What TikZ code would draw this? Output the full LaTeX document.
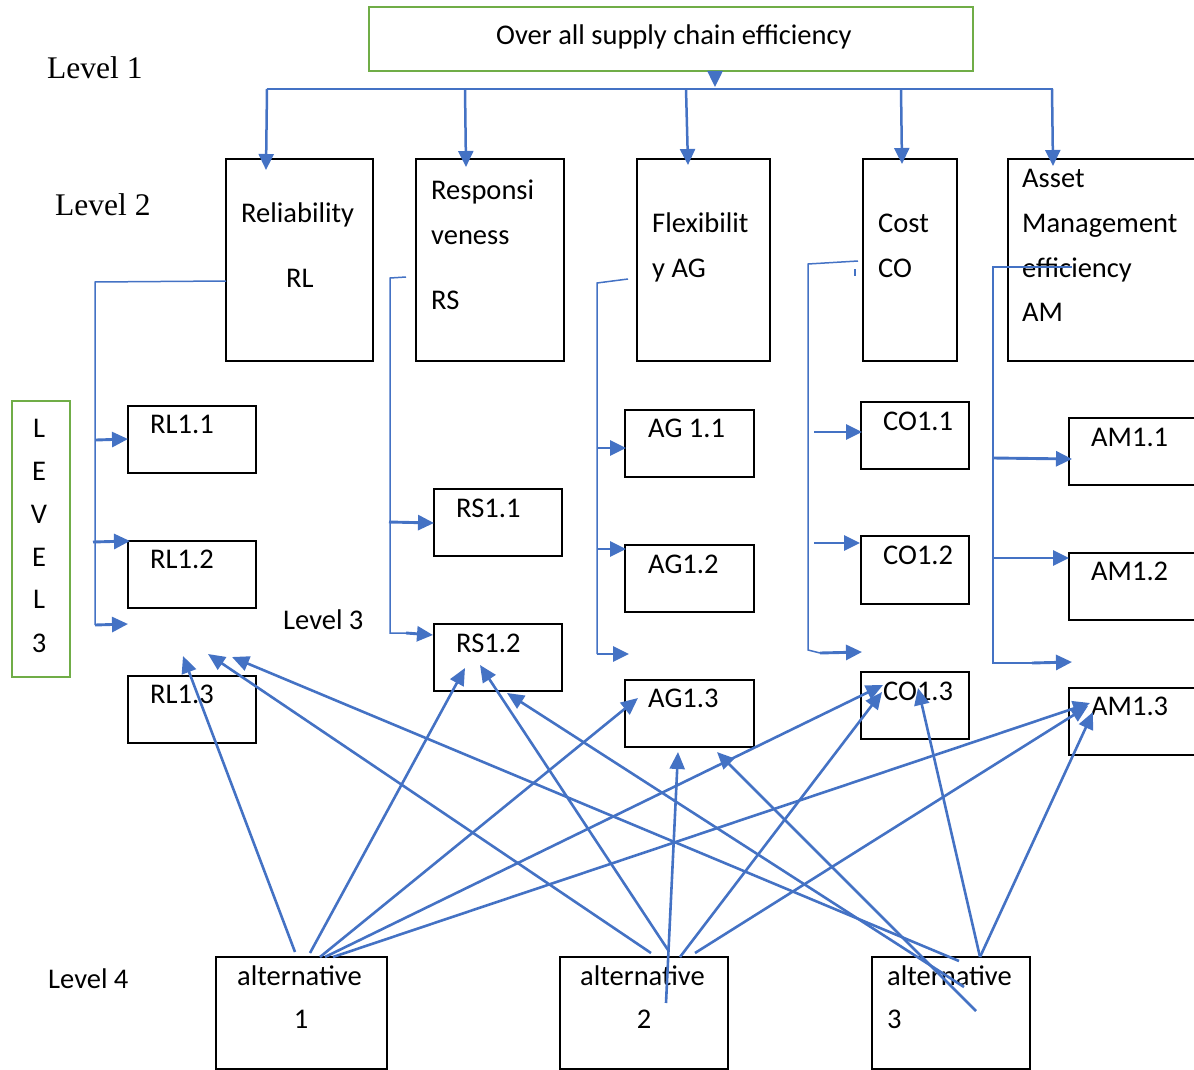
\documentclass[tikz,border=0pt]{standalone}
\usepackage{fontspec}
\setmainfont{Carlito}
\newfontfamily\tnrfont{Liberation Serif}
\usetikzlibrary{arrows.meta}
\definecolor{lblue}{HTML}{4472C4}
\definecolor{lgreen}{HTML}{70AD47}
\newcommand\mkbox[6][blk]{\node[#1,minimum width=#5pt,minimum height=#6pt] (#2) at (#3,#4) {};}
\begin{document}
\begin{tikzpicture}[x=1pt,y=-1pt,
 blk/.style={draw=black,line width=2.2pt,inner sep=0pt,outer sep=0pt,anchor=north west},
 grn/.style={draw=lgreen,line width=2.8pt,inner sep=0pt,outer sep=0pt,anchor=north west},
 txt/.style={inner sep=0pt,anchor=base west,font=\fontsize{28.5}{34}\selectfont},
 ctxt/.style={txt,anchor=base},
 tnr/.style={inner sep=0pt,anchor=base west,font=\tnrfont\fontsize{31.5}{38}\selectfont},
 thinc/.style={draw=lblue,line width=1.5pt},
 arr/.style={draw=lblue,line width=2.9pt,-{Triangle[length=16pt,width=15pt]}},
 tarr/.style={draw=lblue,line width=2.5pt,-{Triangle[length=16pt,width=15pt]}},
 diag/.style={draw=lblue,line width=2.6pt,-{Triangle[length=17pt,width=15pt]}}
]
\useasboundingbox (0,0) rectangle (1194,1070);
% boxes
\mkbox[grn]{top}{369}{7}{604}{64}
\mkbox{rl}{226}{159}{147}{202}
\mkbox{rs}{416}{159}{148}{202}
\mkbox{ag}{637}{159}{133}{202}
\mkbox{co}{863}{159}{94}{202}
\mkbox{am}{1008}{159}{200}{202}
\mkbox[grn]{lev}{12}{401}{58}{276}
\mkbox{rl1}{128}{406}{128}{67}
\mkbox{rl2}{128}{541}{128}{67}
\mkbox{rl3}{128}{676}{128}{67}
\mkbox{rs1}{434}{489}{128}{67}
\mkbox{rs2}{434}{624}{128}{67}
\mkbox{ag1}{625}{410}{129}{67}
\mkbox{ag2}{625}{545}{129}{67}
\mkbox{ag3}{625}{680}{129}{67}
\mkbox{co1}{861}{402}{108}{67}
\mkbox{co2}{861}{536}{108}{68}
\mkbox{co3}{861}{672}{108}{67}
\mkbox{am1}{1069}{418}{140}{67}
\mkbox{am2}{1069}{553}{140}{67}
\mkbox{am3}{1069}{688}{140}{67}
\mkbox{al1}{216}{957}{171}{112}
\mkbox{al2}{560}{957}{168}{112}
\mkbox{al3}{872}{957}{158}{112}
% texts
\node[txt] (ttop) at (496,45) {Over all supply chain efficiency};
\node[tnr] (lv1) at (47,79) {Level 1};
\node[tnr] (lv2) at (55,215) {Level 2};
\node[txt] (trl1) at (241,222) {Reliability};
\node[txt] (trl2) at (286,287) {RL};
\node[txt] (trs1) at (431,199) {Responsi};
\node[txt] (trs2) at (431,244) {veness};
\node[txt] (trs3) at (431,309) {RS};
\node[txt] (tag1) at (652,232) {Flexibilit};
\node[txt] (tag2) at (652,277) {y AG};
\node[txt] (tco1) at (878,232) {Cost};
\node[txt] (tco2) at (878,277) {CO};
\node[txt] (tam1) at (1022,187) {Asset};
\node[txt] (tam2) at (1022,232) {Management};
\node[txt] (tam3) at (1022,277) {efficiency};
\node[txt] (tam4) at (1022,321) {AM};
\node[ctxt] (lvA) at (39,437) {L};
\node[ctxt] (lvB) at (39,480) {E};
\node[ctxt] (lvC) at (39,523) {V};
\node[ctxt] (lvD) at (39,566) {E};
\node[ctxt] (lvE) at (39,608) {L};
\node[ctxt] (lvF) at (39,652) {3};
\node[txt] (trl11) at (150,433) {RL1.1};
\node[txt] (trl12) at (150,568) {RL1.2};
\node[txt] (trl13) at (150,703) {RL1.3};
\node[txt] (trs11) at (456,517) {RS1.1};
\node[txt] (trs12) at (456,652) {RS1.2};
\node[txt] (lv3) at (283,629) {Level 3};
\node[txt] (tag11) at (648,437) {AG 1.1};
\node[txt] (tag12) at (648,573) {AG1.2};
\node[txt] (tag13) at (648,707) {AG1.3};
\node[txt] (tco11) at (883,430) {CO1.1};
\node[txt] (tco12) at (883,564) {CO1.2};
\node[txt] (tco13) at (883,700) {CO1.3};
\node[txt] (tam11) at (1091,446) {AM1.1};
\node[txt] (tam12) at (1091,580) {AM1.2};
\node[txt] (tam13) at (1091,715) {AM1.3};
\node[txt] (lv4) at (48,988) {Level 4};
\node[txt] (tal1a) at (237,985) {alternative};
\node[ctxt] (tal1b) at (301,1028) {1};
\node[txt] (tal2a) at (580,985) {alternative};
\node[ctxt] (tal2b) at (644,1028) {2};
\node[txt] (tal3a) at (887,985) {alternative};
\node[txt] (tal3b) at (887,1028) {3};
% level 1 -> level 2
\coordinate (topout) at (715,71);
\coordinate (topin) at (715,87);
\draw[tarr] (topout) -- (topin);
\coordinate (barL) at (267,89);
\coordinate (barR) at (1053,89);
\draw[thinc] (barL) -- (barR);
\foreach \n/\sx/\ex/\ey in {1/267/266/170, 2/465/466/167, 3/686/688/165, 4/901/902/164, 5/1052/1053/166}{
  \coordinate (bs\n) at (\sx,89);
  \coordinate (be\n) at (\ex,\ey);
  \draw[tarr] (bs\n) -- (be\n);
}
% RL branch
\coordinate (rla) at (226,281);
\coordinate (rlb) at (95,282);
\coordinate (rlc) at (95,625);
\draw[thinc] (rla) -- (rlb) -- (rlc);
\coordinate (rlp1) at (96,440); \coordinate (rlq1) at (128,439);
\coordinate (rlp2) at (93,542); \coordinate (rlq2) at (130,541);
\coordinate (rlq3) at (128,624);
\draw[arr] (rlp1) -- (rlq1);
\draw[arr] (rlp2) -- (rlq2);
\draw[arr] (rlc) -- (rlq3);
% RS branch
\coordinate (rsa) at (406,277);
\coordinate (rsb) at (390,278);
\coordinate (rsc) at (390,633);
\coordinate (rsd) at (406,633);
\draw[thinc] (rsa) -- (rsb) -- (rsc) -- (rsd);
\coordinate (rsp1) at (389,522); \coordinate (rsq1) at (434,523);
\coordinate (rsq2) at (433,635);
\draw[arr] (rsp1) -- (rsq1);
\draw[arr] (rsd) -- (rsq2);
% AG branch
\coordinate (aga) at (628,279);
\coordinate (agb) at (597,283);
\coordinate (agc) at (597,654);
\draw[thinc] (aga) -- (agb) -- (agc);
\coordinate (agp1) at (597,448); \coordinate (agq1) at (626,448);
\coordinate (agp2) at (597,549); \coordinate (agq2) at (626,549);
\coordinate (agq3) at (629,654);
\draw[arr] (agp1) -- (agq1);
\draw[arr] (agp2) -- (agq2);
\draw[arr] (agc) -- (agq3);
% CO branch
\coordinate (coa) at (858,261);
\coordinate (cob) at (808,264);
\coordinate (coc) at (808,650);
\coordinate (cod) at (820,653);
\draw[thinc] (coa) -- (cob) -- (coc) -- (cod);
\coordinate (cot1) at (855,269); \coordinate (cot2) at (855,276);
\draw[thinc] (cot1) -- (cot2);
\coordinate (cop1) at (814,432); \coordinate (coq1) at (862,432);
\coordinate (cop2) at (814,543); \coordinate (coq2) at (860,543);
\coordinate (coq3) at (862,652);
\draw[arr] (cop1) -- (coq1);
\draw[arr] (cop2) -- (coq2);
\draw[arr] (cod) -- (coq3);
% AM branch
\coordinate (ama) at (1072,267);
\coordinate (amb) at (993,267);
\coordinate (amc) at (993,663);
\coordinate (amd) at (1032,663);
\draw[thinc] (ama) -- (amb) -- (amc) -- (amd);
\coordinate (amp1) at (993,458); \coordinate (amq1) at (1072,459);
\coordinate (amp2) at (993,558); \coordinate (amq2) at (1069,558);
\coordinate (amq3) at (1072,662);
\draw[arr] (amp1) -- (amq1);
\draw[arr] (amp2) -- (amq2);
\draw[arr] (amd) -- (amq3);
% alternatives -> level 3
\foreach \n/\sx/\sy/\ex/\ey in {
  a/295/952/183/656, b/310/953/465/668, c/320/957/638/698, d/325/957/883/685, e/333/957/1090/703,
  f/651/953/208/654, g/668/950/480/665, h/666/1003/678/752, i/680/957/882/692, j/695/953/1088/706,
  k/959/961/232/657, l/964/987/507/693, m/976/1011/717/752, n/980/957/918/688, o/980/957/1093/712}{
  \coordinate (ds\n) at (\sx,\sy);
  \coordinate (de\n) at (\ex,\ey);
  \draw[diag] (ds\n) -- (de\n);
}
\end{tikzpicture}
\end{document}
